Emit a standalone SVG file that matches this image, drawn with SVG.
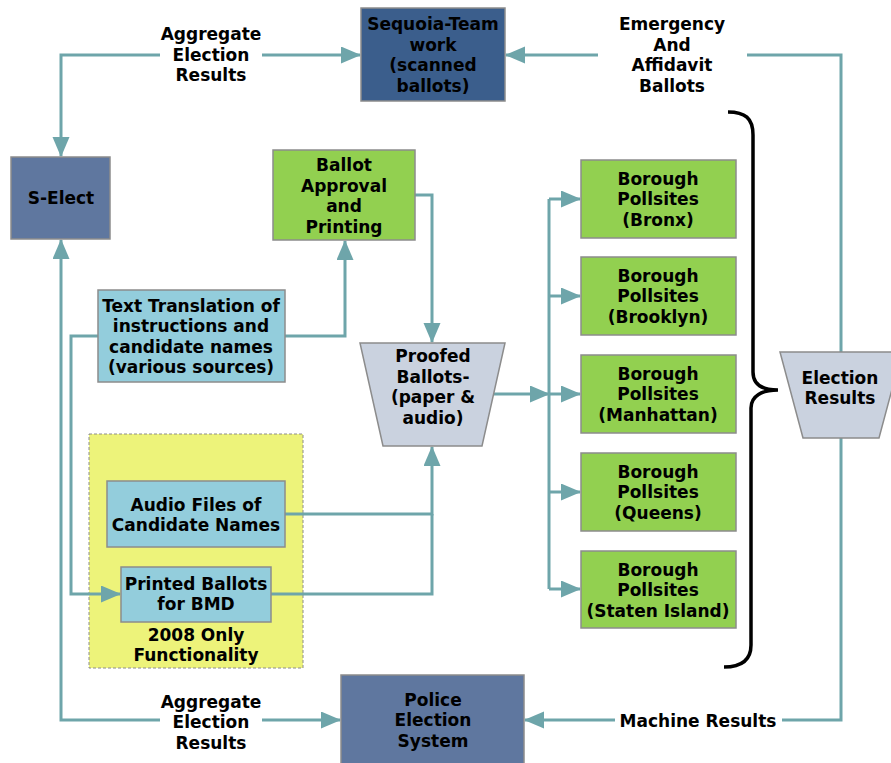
<svg xmlns="http://www.w3.org/2000/svg" width="891" height="763" viewBox="0 0 891 763">
<style>
text{font-family:"DejaVu Sans","Verdana",sans-serif;font-weight:bold;font-size:17px;fill:#000;text-anchor:middle}
.box{stroke:#8c8c8c;stroke-width:1.5}
.dk{fill:#3b5e8c}
.md{fill:#5f779f}
.gr{fill:#92d050}
.lb{fill:#93cddc}
.tr{fill:#cad2df}
.c{fill:none;stroke:#6ea5aa;stroke-width:3}
.br{fill:none;stroke:#000;stroke-width:3.5}
</style>
<defs>
<marker id="ah" markerUnits="userSpaceOnUse" markerWidth="20" markerHeight="18" refX="19" refY="8.5" orient="auto">
<path d="M0,0 L20,8.5 L0,17 z" fill="#6ea5aa"/>
</marker>
</defs>
<rect x="0" y="0" width="891" height="763" fill="#fff"/>

<g id="functionality-2008">
<rect x="89" y="434" width="214" height="234" fill="#edf37a" stroke="#8c8c8c" stroke-width="1" stroke-dasharray="3,2"/>
<text x="196" y="641">2008 Only</text>
<text x="196" y="661">Functionality</text>
</g>

<g id="connectors">
<path class="c" d="M160,55 H61 V156" marker-end="url(#ah)"/>
<path class="c" d="M262,55 H360" marker-end="url(#ah)"/>
<path class="c" d="M841,352 V55 H747"/>
<path class="c" d="M598,55 H506" marker-end="url(#ah)"/>
<path class="c" d="M841,438 V720 H782"/>
<path class="c" d="M615,720 H525" marker-end="url(#ah)"/>
<path class="c" d="M160,720 H61 V240" marker-end="url(#ah)"/>
<path class="c" d="M262,720 H340" marker-end="url(#ah)"/>
<path class="c" d="M415,195 H432 V342" marker-end="url(#ah)"/>
<path class="c" d="M285,336 H345 V241" marker-end="url(#ah)"/>
<path class="c" d="M98,336 H71 V594 H120" marker-end="url(#ah)"/>
<path class="c" d="M285,514 H432 V447" marker-end="url(#ah)"/>
<path class="c" d="M271,594 H432 V514"/>
<path class="c" d="M494,394 H549" marker-end="url(#ah)"/>
<path class="c" d="M549,199 V589"/>
<path class="c" d="M549,199 H580" marker-end="url(#ah)"/>
<path class="c" d="M549,296 H580" marker-end="url(#ah)"/>
<path class="c" d="M549,394 H580" marker-end="url(#ah)"/>
<path class="c" d="M549,492 H580" marker-end="url(#ah)"/>
<path class="c" d="M549,589 H580" marker-end="url(#ah)"/>
</g>

<g id="labels">
<rect x="160" y="20" width="102" height="66" fill="#fff"/>
<text x="211" y="40">Aggregate</text>
<text x="211" y="61">Election</text>
<text x="211" y="81">Results</text>
<text x="672" y="30">Emergency</text>
<text x="672" y="51">And</text>
<text x="672" y="71">Affidavit</text>
<text x="672" y="92">Ballots</text>
<text x="211" y="708">Aggregate</text>
<text x="211" y="728">Election</text>
<text x="211" y="749">Results</text>
<text x="698" y="727">Machine Results</text>
</g>

<g id="bracket">
<path class="br" d="M728,112 C745,112 753,118 753,135 V372 C753,384 762,390 778,390 C762,390 751,396 751,408 V645 C751,660 742,667 724,667"/>
</g>

<g id="sequoia">
<rect class="box dk" x="361" y="8" width="144" height="93"/>
<text x="433" y="30">Sequoia-Team</text>
<text x="433" y="51">work</text>
<text x="433" y="71">(scanned</text>
<text x="433" y="92">ballots)</text>
</g>

<g id="s-elect">
<rect class="box md" x="11" y="157" width="99" height="82"/>
<text x="61" y="204">S-Elect</text>
</g>

<g id="ballot-approval">
<rect class="box gr" x="273" y="150" width="142" height="90"/>
<text x="344" y="171">Ballot</text>
<text x="344" y="192">Approval</text>
<text x="344" y="212">and</text>
<text x="344" y="233">Printing</text>
</g>

<g id="text-translation">
<rect class="box lb" x="98" y="290" width="187" height="92"/>
<text x="191" y="312">Text Translation of</text>
<text x="191" y="332">instructions and</text>
<text x="191" y="353">candidate names</text>
<text x="191" y="373">(various sources)</text>
</g>

<g id="proofed-ballots">
<path class="box tr" d="M360,343 H505 L482,446 H383 Z"/>
<text x="433" y="362">Proofed</text>
<text x="433" y="383">Ballots-</text>
<text x="433" y="403">(paper &amp;</text>
<text x="433" y="424">audio)</text>
</g>

<g id="audio-files">
<rect class="box lb" x="107" y="481" width="178" height="66"/>
<text x="196" y="511">Audio Files of</text>
<text x="196" y="531">Candidate Names</text>
</g>

<g id="printed-ballots">
<rect class="box lb" x="121" y="567" width="150" height="55"/>
<text x="196" y="590">Printed Ballots</text>
<text x="196" y="610">for BMD</text>
</g>

<g id="borough-bronx">
<rect class="box gr" x="581" y="160" width="155" height="78"/>
<text x="658" y="185">Borough</text>
<text x="658" y="205">Pollsites</text>
<text x="658" y="226">(Bronx)</text>
</g>

<g id="borough-brooklyn">
<rect class="box gr" x="581" y="257" width="155" height="78"/>
<text x="658" y="282">Borough</text>
<text x="658" y="302">Pollsites</text>
<text x="658" y="323">(Brooklyn)</text>
</g>

<g id="borough-manhattan">
<rect class="box gr" x="581" y="355" width="155" height="78"/>
<text x="658" y="380">Borough</text>
<text x="658" y="400">Pollsites</text>
<text x="658" y="421">(Manhattan)</text>
</g>

<g id="borough-queens">
<rect class="box gr" x="581" y="453" width="155" height="78"/>
<text x="658" y="478">Borough</text>
<text x="658" y="498">Pollsites</text>
<text x="658" y="519">(Queens)</text>
</g>

<g id="borough-staten-island">
<rect class="box gr" x="581" y="551" width="155" height="77"/>
<text x="658" y="576">Borough</text>
<text x="658" y="596">Pollsites</text>
<text x="658" y="617">(Staten Island)</text>
</g>

<g id="election-results">
<path class="box tr" d="M780,352 H902 L879,438 H803 Z"/>
<text x="840" y="384">Election</text>
<text x="840" y="404">Results</text>
</g>

<g id="police">
<rect class="box md" x="341" y="675" width="183" height="95"/>
<text x="433" y="706">Police</text>
<text x="433" y="726">Election</text>
<text x="433" y="747">System</text>
</g>
</svg>
